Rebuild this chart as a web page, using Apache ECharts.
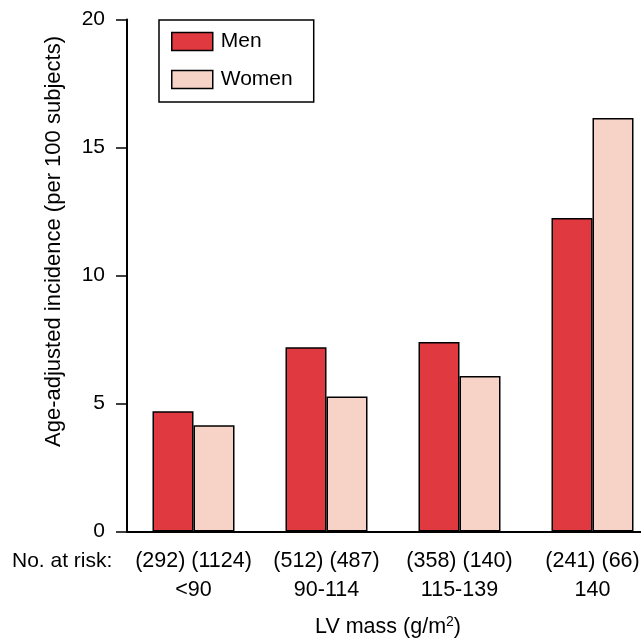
<!DOCTYPE html>
<html>
<head>
<meta charset="utf-8">
<script src="https://cdn.jsdelivr.net/npm/echarts@6/dist/echarts.min.js"></script>
<style>
html,body{margin:0;padding:0;background:#fff;}
#chart{width:641px;height:640px;}
</style>
</head>
<body>
<div id="chart"></div>
<script>
const categories = ['<90', '90-114', '115-139', '140'];
const atRisk = ['(292) (1124)', '(512) (487)', '(358) (140)', '(241) (66)'];
const men = [4.7, 7.2, 7.4, 12.25];
const women = [4.15, 5.27, 6.07, 16.15];
const yTicks = [0, 5, 10, 15, 20];

const FONT = '"Liberation Sans", Arial, Helvetica, sans-serif';
const chart = echarts.init(document.getElementById('chart'), null, {renderer: 'canvas'});

chart.setOption({
  animation: false,
  backgroundColor: '#fff',
  textStyle: {fontFamily: FONT, color: '#000'},
  grid: {left: 127, top: 19.5, width: 532, height: 512, containLabel: false, outerBoundsMode: 'none'},
  legend: {
    orient: 'vertical',
    left: 159, top: 20,
    padding: [11, 21, 12, 12],
    itemWidth: 41, itemHeight: 18, itemGap: 17,
    borderColor: '#000', borderWidth: 1.5,
    icon: 'rect',
    itemStyle: {borderColor: '#000', borderWidth: 1.5},
    textStyle: {fontFamily: FONT, fontSize: 21, color: '#000', padding: [0, 0, 0, 3]},
    data: ['Men', 'Women']
  },
  xAxis: {
    type: 'category',
    data: categories,
    axisLine: {lineStyle: {color: '#000', width: 2}},
    axisTick: {alignWithLabel: true, length: 10, lineStyle: {color: '#000', width: 1.5}},
    axisLabel: {
      interval: 0,
      margin: 15,
      fontFamily: FONT, fontSize: 21.5, color: '#000', lineHeight: 29,
      formatter: function (v, i) { return atRisk[i] + '\n' + v; }
    },
    name: 'LV mass (g/m{sup|2})',
    nameLocation: 'middle',
    nameGap: 84,
    nameTextStyle: {
      fontFamily: FONT, fontSize: 21.5, color: '#000', padding: [0, 10, 0, 0],
      rich: {sup: {fontFamily: FONT, fontSize: 14, color: '#000', verticalAlign: 'top', padding: [0, 0, 10, 0]}}
    }
  },
  yAxis: {
    type: 'value',
    min: 0, max: 20, interval: 5,
    axisLine: {show: true, lineStyle: {color: '#000', width: 2}},
    axisTick: {show: true, length: 11, lineStyle: {color: '#000', width: 1.5}},
    splitLine: {show: false},
    axisLabel: {margin: 22, fontFamily: FONT, fontSize: 21, color: '#000',
      formatter: function (v) { return yTicks.indexOf(v) >= 0 ? String(v) : ''; }},
    name: 'Age-adjusted incidence (per 100 subjects)',
    nameLocation: 'middle',
    nameGap: 62,
    nameTextStyle: {fontFamily: FONT, fontSize: 22, color: '#000', padding: [0, 0, 0, 68]}
  },
  series: [
    {
      name: 'Men', type: 'bar', data: men,
      barWidth: 41, barGap: '0%',
      itemStyle: {color: '#E03A40', borderColor: '#000', borderWidth: 1.5}
    },
    {
      name: 'Women', type: 'bar', data: women,
      barWidth: 41,
      itemStyle: {color: '#F7D3C7', borderColor: '#000', borderWidth: 1.5}
    }
  ],
  graphic: [
    {type: 'text', x: 12, y: 561,
      style: {text: 'No. at risk:', fontFamily: FONT, fontSize: 21, fill: '#000', verticalAlign: 'middle'}}
  ]
});
</script>
</body>
</html>
